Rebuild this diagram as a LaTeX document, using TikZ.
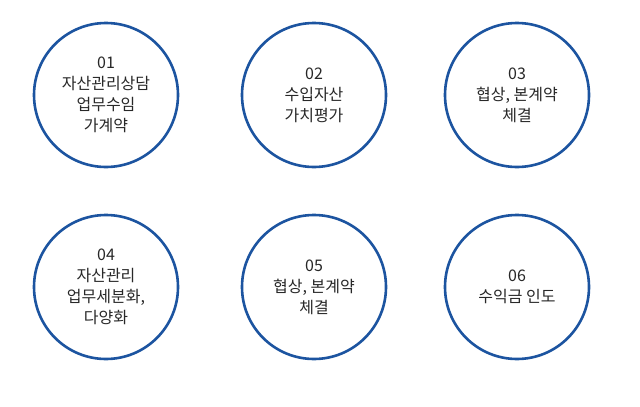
\documentclass[tikz,border=0pt]{standalone}
\usepackage{fontspec}
\setmainfont{Noto Sans CJK KR}
\definecolor{ring}{RGB}{28,84,160}
\definecolor{txt}{RGB}{40,40,40}
\tikzset{stepcircle/.style={circle,draw=ring,line width=2.6pt,fill=white,minimum size=144pt,inner sep=0pt,align=center,text=txt,font=\fontsize{16}{21}\selectfont}}
\begin{document}
\begin{tikzpicture}[x=1pt,y=-1pt]
\useasboundingbox (0,0) rectangle (640,407);
\node[stepcircle] (c1) at (106,95) {01\\자산관리상담\\업무수임\\가계약};
\node[stepcircle] (c2) at (314,95) {02\\수입자산\\가치평가};
\node[stepcircle] (c3) at (517,95) {03\\협상, 본계약\\체결};
\node[stepcircle] (c4) at (106,287) {04\\자산관리\\업무세분화,\\다양화};
\node[stepcircle] (c5) at (314,287) {05\\협상, 본계약\\체결};
\node[stepcircle] (c6) at (517,287) {06\\수익금 인도};
\end{tikzpicture}
\end{document}
